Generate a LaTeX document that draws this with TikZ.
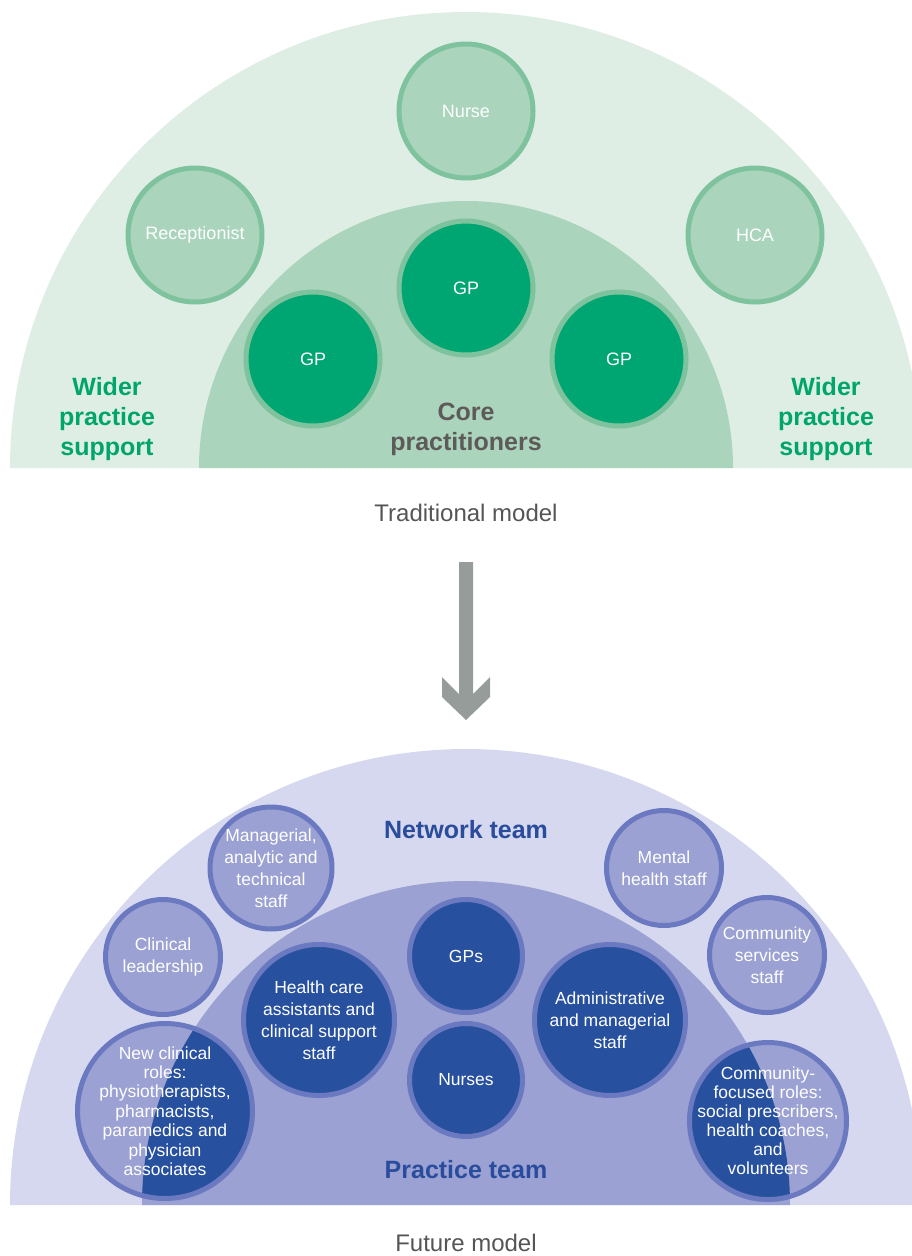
\documentclass[tikz,border=0pt]{standalone}
\usepackage{fontspec}
\setmainfont{Liberation Sans}
\definecolor{tmouter}{HTML}{DFEEE5}
\definecolor{tminner}{HTML}{AAD4BB}
\definecolor{tmring}{HTML}{7EC29E}
\definecolor{tmgp}{HTML}{00A672}
\definecolor{tmtext}{HTML}{00A56B}
\definecolor{coregrey}{HTML}{5E5A59}
\definecolor{captiongrey}{HTML}{555555}
\definecolor{arrowgrey}{HTML}{959C99}
\definecolor{fmouter}{HTML}{D5D8EE}
\definecolor{fminner}{HTML}{9BA1D2}
\definecolor{fmring}{HTML}{6B79C0}
\definecolor{fmdark}{HTML}{27509F}
\definecolor{fmtext}{HTML}{2A4C9C}
\tikzset{
  role/.style={circle, draw=tmring, fill=tminner, line width=5pt, minimum size=134pt, inner sep=0pt, text=white, font=\fontsize{18}{22}\selectfont},
  team/.style={circle, draw=fmring, fill=fminner, line width=5pt, inner sep=0pt, text=white, align=center, font=\fontsize{17.5}{22}\selectfont},
  coreteam/.style={team, fill=fmdark},
  ring/.style={draw=fmring, line width=5pt},
  roletext/.style={inner sep=0pt, text=white, align=center, font=\fontsize{17.5}{19.4}\selectfont},
  widertext/.style={text=tmtext, align=center, font=\bfseries\fontsize{25}{30}\selectfont},
  coretext/.style={text=coregrey, align=center, font=\bfseries\fontsize{25}{30}\selectfont},
  teamtext/.style={text=fmtext, font=\bfseries\fontsize{25}{30}\selectfont},
  caption/.style={text=captiongrey, inner sep=0pt, font=\fontsize{24}{28}\selectfont}
}

\begin{document}
\begin{tikzpicture}[x=1pt, y=-1pt]
    \useasboundingbox (0,0) rectangle (912,1256);
    \clip (0,0) rectangle (912,1256);
    % traditional model
    \fill[tmouter](10,468)arc[start angle=180, end angle=0, radius=456pt]--cycle;
    \fill[tminner](199,468)arc[start angle=180, end angle=0, radius=267pt]--cycle;
    \node[role] (nurse) at (466,111) {Nurse};
    \node[role] (recep) at (195,235) {Receptionist};
    \node[role] (hca) at (755,235) {HCA};
    \node[role, fill=tmgp] (gpmid) at (466,288) {GP};
    \node[role, fill=tmgp] (gpleft) at (313,359) {GP};
    \node[role, fill=tmgp] (gpright) at (619,359) {GP};
    \node[widertext] (widerleft) at (107,419) {Wider\\practice\\support};
    \node[widertext] (widerright) at (826,419) {Wider\\practice\\support};
    \node[coretext] (corelabel) at (466,429) {Core\\practitioners};
    \node[caption] (tradlabel) at (466,513) {Traditional model};
    % arrow
    \fill[arrowgrey](459,562)--(473,562)--(473,694)--(490,677)--(490,697)--(466,720)--(442,697)--(442,677)--(459,694)--cycle;
    % future model
    \fill[fmouter](10,1205)arc[start angle=180, end angle=0, radius=456pt]--cycle;
    \fill[fminner](142,1205)arc[start angle=180, end angle=0, radius=324pt]--cycle;
    \coordinate (newroles) at (165,1111);
    \coordinate (commroles) at (768,1121);
    \fill[fminner](newroles)circle(87.5pt);
    \fill[fminner](commroles)circle(78.5pt);
    \begin{scope}
        \clip(142,1205)arc[start angle=180, end angle=0, radius=324pt]--cycle;
        \fill[fmdark](newroles)circle(87.5pt);
        \fill[fmdark](commroles)circle(78.5pt);
    \end{scope}
    \draw[ring](newroles)circle(87.5pt);
    \draw[ring](commroles)circle(78.5pt);
    \node[roletext] (newrolestext) at (newroles) {New clinical\\roles:\\physiotherapists,\\pharmacists,\\paramedics and\\physician\\associates};
    \node[roletext, font=\fontsize{17.5}{19}\selectfont] (commrolestext) at (commroles) {Community-\\focused roles:\\social prescribers,\\health coaches,\\and\\volunteers};
    \node[team, minimum size=115pt] (manag) at (271,868) {Managerial,\\analytic and\\technical\\staff};
    \node[team, minimum size=115pt] (mental) at (664,868) {Mental\\health staff};
    \node[team, minimum size=115pt] (clinlead) at (163,957) {Clinical\\leadership};
    \node[team, minimum size=115pt] (commserv) at (767,955) {Community\\services\\staff};
    \node[coreteam, minimum size=113pt] (gps) at (466,956) {GPs};
    \node[coreteam, minimum size=113pt] (nurses) at (466,1080) {Nurses};
    \node[coreteam, minimum size=151pt] (hcas) at (319,1020) {Health care\\assistants and\\clinical support\\staff};
    \node[coreteam, minimum size=151pt] (admin) at (610,1020) {Administrative\\and managerial\\staff};
    \node[teamtext] (network) at (466,830) {Network team};
    \node[teamtext] (practice) at (466,1170) {Practice team};
    \node[caption] (futurelabel) at (466,1243) {Future model};
\end{tikzpicture}
\end{document}
